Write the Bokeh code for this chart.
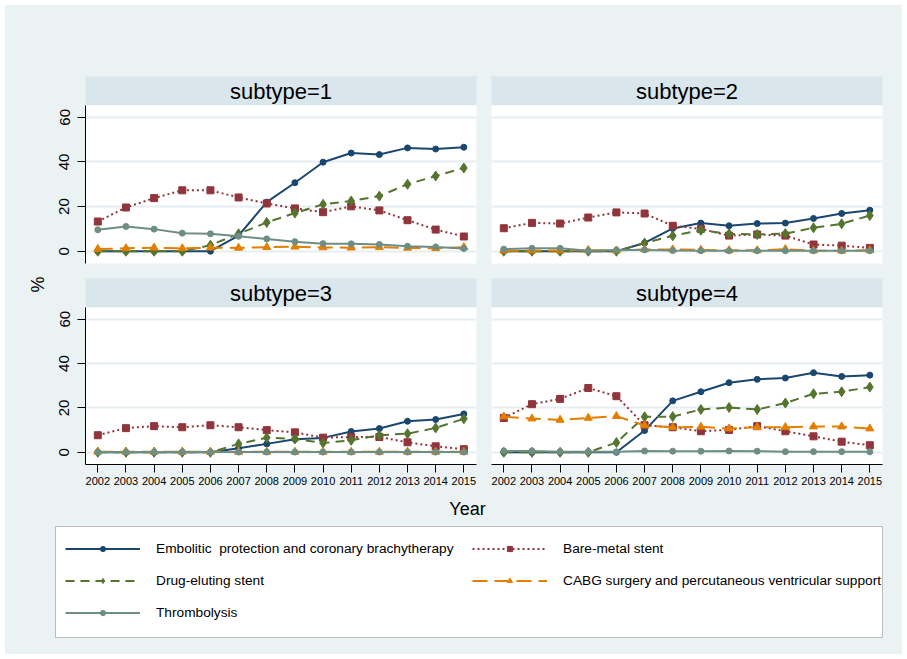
from bokeh.plotting import figure
from bokeh.layouts import row, column
from bokeh.models import Range1d, LinearAxis, FixedTicker, Legend, LegendItem, BoxAnnotation
from bokeh.embed import file_html
from bokeh.resources import INLINE
from bokeh.core.properties import value

# ---------------- data ----------------
years = [2002, 2003, 2004, 2005, 2006, 2007, 2008, 2009, 2010, 2011, 2012, 2013, 2014, 2015]
y_ticks = [0, 20, 40, 60]
panel_titles = ["subtype=1", "subtype=2", "subtype=3", "subtype=4"]
series_names = ["Embolitic  protection and coronary brachytherapy", "Bare-metal stent",
                "Drug-eluting stent", "CABG surgery and percutaneous ventricular support",
                "Thrombolysis"]
y_title = "%"
x_title = "Year"

# subtype=1
emb1 = [0, 0, 0, 0, 0, 7.0, 22.0, 30.7, 39.9, 44.0, 43.3, 46.3, 45.8, 46.6]
bms1 = [13.3, 19.6, 23.8, 27.3, 27.3, 24.1, 21.4, 19.2, 17.5, 20.1, 18.3, 13.9, 9.7, 6.6]
des1 = [0, 0, 0, 0, 2.7, 7.8, 12.9, 17.1, 21.0, 22.5, 24.7, 30.0, 33.7, 37.3]
cabg1 = [1.0, 1.3, 1.6, 1.3, 1.6, 1.5, 1.8, 2.0, 1.7, 1.6, 1.8, 1.5, 1.3, 1.8]
thr1 = [9.6, 11.1, 9.9, 8.1, 7.8, 6.7, 5.5, 4.3, 3.4, 3.3, 3.0, 2.2, 1.9, 1.2]

# subtype=2
emb2 = [0, 0, 0, 0, 0, 3.7, 10.2, 12.6, 11.4, 12.4, 12.6, 14.7, 16.9, 18.4]
bms2 = [10.3, 12.7, 12.4, 15.1, 17.4, 16.9, 11.4, 10.0, 7.0, 7.5, 7.0, 3.0, 2.5, 1.5]
des2 = [0, 0, 0, 0, 0, 3.7, 6.9, 9.4, 7.8, 7.5, 7.9, 10.5, 12.3, 16.0]
cabg2 = [0.2, 0.3, 0.3, 0.5, 0.3, 0.8, 0.8, 0.6, 0.4, 0.4, 0.9, 0.3, 0.2, 0.4]
thr2 = [0.9, 1.3, 1.3, 0.2, 0.5, 0.6, 0.3, 0.2, 0.2, 0.2, 0.2, 0.2, 0.2, 0.2]

# subtype=3
emb3 = [0, 0, 0, 0, 0, 1.8, 3.8, 5.9, 6.5, 9.4, 10.7, 14.0, 14.8, 17.3]
bms3 = [7.7, 10.9, 11.8, 11.3, 12.2, 11.3, 10.0, 9.0, 6.6, 6.9, 6.9, 4.5, 2.7, 1.4]
des3 = [0, 0, 0, 0, 0, 3.8, 6.6, 6.0, 4.2, 5.4, 7.7, 8.4, 11.0, 15.1]
cabg3 = [0.3, 0.2, 0.2, 0.2, 0.2, 0.2, 0.2, 0.2, 0.2, 0.2, 0.2, 0.2, 0.2, 0.2]
thr3 = [0.1, 0.1, 0.1, 0.1, 0.1, 0.1, 0.1, 0.1, 0.1, 0.1, 0.1, 0.1, 0.1, 0.1]

# subtype=4
emb4 = [0, 0, 0, 0, 0, 9.8, 23.2, 27.3, 31.4, 32.9, 33.5, 35.9, 34.2, 34.8]
bms4 = [15.5, 21.7, 24.1, 29.0, 25.3, 12.2, 11.3, 9.5, 10.1, 11.8, 9.5, 7.2, 4.8, 3.2]
des4 = [0, 0, 0, 0, 4.4, 16.0, 16.1, 19.3, 20.2, 19.3, 22.2, 26.4, 27.3, 29.4]
cabg4 = [16.1, 15.2, 14.6, 15.5, 16.3, 12.1, 11.3, 11.5, 10.7, 11.3, 11.3, 11.6, 11.6, 10.7]
thr4 = [0.6, 0.6, 0.3, 0.3, 0.2, 0.6, 0.5, 0.5, 0.6, 0.5, 0.3, 0.3, 0.3, 0.2]

panel_data = [
    [emb1, bms1, des1, cabg1, thr1],
    [emb2, bms2, des2, cabg2, thr2],
    [emb3, bms3, des3, cabg3, thr3],
    [emb4, bms4, des4, cabg4, thr4],
]

# ---------------- styles ----------------
BG = "#EAF2F3"
STRIP = "#D9E6EB"
GRID = "#E6EEF1"
FONT = "Liberation Sans"
styles = [
    dict(color="#1a476f", dash="solid", marker="circle", size=6),
    dict(color="#90353b", dash="2 3", marker="square", size=7),
    dict(color="#55752f", dash="9 6", marker="diamond", size=10),
    dict(color="#e37e00", dash="15 7", marker="triangle", size=8),
    dict(color="#6e8e84", dash="solid", marker="circle", size=6),
]
X_RANGE = (2001.563, 2015.45)
Y_RANGE = (-5.5, 65.3)


def base_fig(w, h, bl, br, bt, bb, xr=(0, 1), yr=(0, 1)):
    p = figure(width=w, height=h, x_range=Range1d(*xr), y_range=Range1d(*yr),
               x_axis_location=None, y_axis_location=None,
               toolbar_location=None, output_backend="svg",
               min_border_left=bl, min_border_right=br,
               min_border_top=bt, min_border_bottom=bb)
    p.border_fill_color = BG
    p.outline_line_color = None
    p.xgrid.visible = False
    p.ygrid.visible = False
    return p


def header(title, w, h, bl, br, bt):
    p = base_fig(w, h, bl, br, bt, 0)
    p.background_fill_color = STRIP
    p.text(x=[0.5], y=[0.5], text=[title], text_align="center", text_baseline="middle",
           text_font=value(FONT), text_font_size="22px", text_color="black")
    return p


def style_axis(ax, size):
    ax.axis_line_color = "black"
    ax.axis_line_width = 1
    ax.major_tick_line_color = "black"
    ax.major_tick_out = 8
    ax.major_tick_in = 0
    ax.minor_tick_out = 0
    ax.minor_tick_in = 0
    ax.major_label_text_font = FONT
    ax.major_label_text_font_size = size
    ax.major_label_text_color = "black"


def panel(data, w, h, bl, br, bb, left, bottom):
    p = base_fig(w, h, bl, br, 0, bb, X_RANGE, Y_RANGE)
    p.background_fill_color = "white"
    p.ygrid.visible = True
    p.ygrid.ticker = FixedTicker(ticks=y_ticks)
    p.ygrid.grid_line_color = GRID
    p.ygrid.grid_line_width = 2
    if left:
        ax = LinearAxis(ticker=FixedTicker(ticks=y_ticks))
        style_axis(ax, "15px")
        ax.major_label_orientation = "vertical"
        ax.major_label_standoff = 8
        p.add_layout(ax, "left")
    if bottom:
        ax = LinearAxis(ticker=FixedTicker(ticks=years))
        style_axis(ax, "11px")
        ax.major_label_standoff = 4
        p.add_layout(ax, "below")
    for vals, st in zip(data, styles):
        p.line(years, vals, line_color=st["color"], line_width=2, line_dash=st["dash"])
        p.scatter(years, vals, marker=st["marker"], size=st["size"],
                  fill_color=st["color"], line_color=st["color"])
    return p


# content origin at page (5, 5); left block x 50->484, right block x 484->902
h1 = header(panel_titles[0], 434, 100, 35, 8, 71)
h2 = header(panel_titles[1], 418, 100, 7, 20, 71)
p1 = panel(panel_data[0], 434, 173, 35, 8, 15, True, False)
p2 = panel(panel_data[1], 418, 173, 7, 20, 15, False, False)
h3 = header(panel_titles[2], 434, 29, 35, 8, 0)
h4 = header(panel_titles[3], 418, 29, 7, 20, 0)
p3 = panel(panel_data[2], 434, 188, 35, 8, 31, True, True)
p4 = panel(panel_data[3], 418, 188, 7, 20, 31, False, True)

# y title column (ranges in page pixel coordinates)
pct = base_fig(45, 490, 0, 0, 0, 0, xr=(5, 50), yr=(495, 5))
pct.background_fill_color = BG
pct.text(x=[37], y=[284], text=[y_title], angle=1.5708, text_align="center",
         text_baseline="middle", text_font=value(FONT), text_font_size="18px",
         text_color="black")

# bottom area: x title + legend box (ranges in page pixel coordinates)
bot = base_fig(897, 159, 0, 0, 0, 0, xr=(5, 902), yr=(654, 495))
bot.background_fill_color = BG
bot.text(x=[467], y=[508], text=[x_title], text_align="center", text_baseline="middle",
         text_font=value(FONT), text_font_size="18px", text_color="black")
bot.add_layout(BoxAnnotation(left=55, right=882, top=526, bottom=637,
                             fill_color="white", fill_alpha=1,
                             line_color="#333333", line_width=1))

items = []
for name, st, vals in zip(series_names, styles, panel_data[0]):
    # drawn outside the visible ranges; only used for the legend swatches
    lr = bot.line(years, vals, line_color=st["color"], line_width=2, line_dash=st["dash"])
    sr = bot.scatter(years, vals, marker=st["marker"], size=st["size"],
                     fill_color=st["color"], line_color=st["color"])
    items.append(LegendItem(label=name, renderers=[lr, sr]))


def make_legend(its, loc):
    return Legend(items=its, location=loc, orientation="vertical",
                  padding=0, margin=0, spacing=12,
                  glyph_width=75, glyph_height=13, label_height=20, label_standoff=16,
                  label_text_font=FONT, label_text_font_size="13.7px",
                  label_text_color="black", background_fill_alpha=0,
                  border_line_color=None)


bot.add_layout(make_legend([items[0], items[2], items[4]], (60, 32)))
bot.add_layout(make_legend([items[1], items[3]], (467, 64)))

grid_block = column(row(column(h1, p1), column(h2, p2)),
                    row(column(h3, p3), column(h4, p4)))
layout = column(row(pct, grid_block), bot,
                styles={"background-color": BG}, margin=(5, 5, 5, 5))

open("out.html", "w").write(file_html(layout, INLINE))
